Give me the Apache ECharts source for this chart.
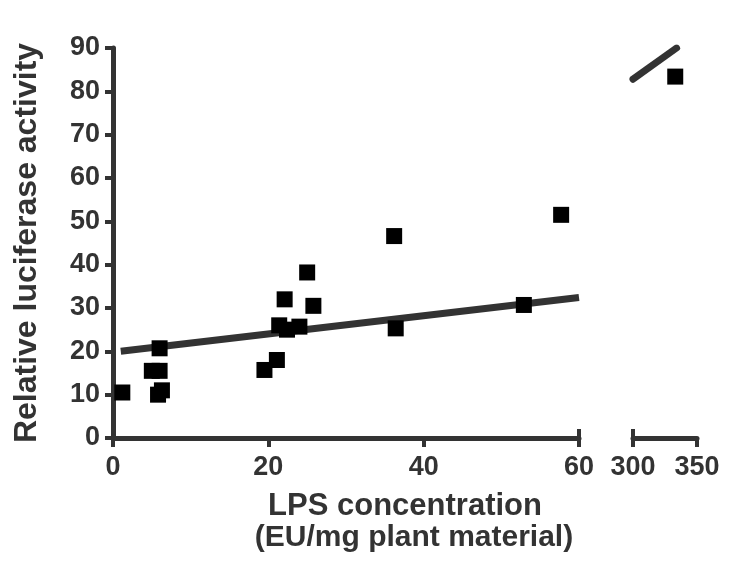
<!DOCTYPE html>
<html>
<head>
<meta charset="utf-8">
<script src="https://cdn.jsdelivr.net/npm/echarts@6/dist/echarts.min.js"></script>
<style>
html,body{margin:0;padding:0;background:#fff;}
#chart{width:750px;height:573px;}
</style>
</head>
<body>
<div id="chart"></div>
<script>
// Data
const lpsConc = [1.2, 5.0, 6.0, 6.0, 5.8, 6.3, 19.5, 21.1, 21.4, 22.4, 22.1, 24.0, 25.0, 25.8, 36.2, 36.4, 52.9, 57.7, 333];
const lucActivity = [10.5, 15.5, 15.5, 20.7, 10.0, 11.0, 15.7, 18.0, 26.0, 25.0, 32.0, 25.7, 38.2, 30.5, 46.6, 25.3, 30.7, 51.5, 83.4];
// Regression line end points (as drawn)
const fitLowX = [1.0, 60];
const fitLowY = [20.0, 32.4];
const fitHighX = [300, 334];
const fitHighY = [82.8, 90];
const yTicks = {min: 0, max: 90, interval: 10};
const xLowTicks = {min: 0, max: 60, interval: 20};
const xHighTicks = {min: 300, max: 350, interval: 50};
const xTitle = ['LPS concentration', '(EU/mg plant material)'];
const yTitle = 'Relative luciferase activity';

const FONT = '"Liberation Sans", Arial, sans-serif';
const INK = '#333333';

const lowPts = [], highPts = [];
lpsConc.forEach((x, i) => { (x < 100 ? lowPts : highPts).push([x, lucActivity[i]]); });

const chart = echarts.init(document.getElementById('chart'));

const axisLine = {show: true, lineStyle: {color: INK, width: 5}};
const labelStyle = {color: INK, fontSize: 27, fontWeight: 'bold', fontFamily: FONT};

chart.setOption({
  animation: false,
  backgroundColor: '#fff',
  grid: [
    {left: 113, top: 48, width: 466, height: 390},
    {left: 633, top: 48, width: 64, height: 390}
  ],
  xAxis: [
    {gridIndex: 0, type: 'value', min: xLowTicks.min, max: xLowTicks.max, interval: xLowTicks.interval,
     axisLine: axisLine, axisTick: {show: true, length: 9, lineStyle: {color: INK, width: 4}},
     axisLabel: Object.assign({margin: 16}, labelStyle), splitLine: {show: false}},
    {gridIndex: 1, type: 'value', min: xHighTicks.min, max: xHighTicks.max, interval: xHighTicks.interval,
     axisLine: axisLine, axisTick: {show: true, length: 9, lineStyle: {color: INK, width: 4}},
     axisLabel: Object.assign({margin: 16}, labelStyle), splitLine: {show: false}},
    // break marks (ticks pointing inward at the segment edges next to the break)
    {gridIndex: 0, type: 'value', min: xLowTicks.min, max: xLowTicks.max, position: 'bottom',
     axisLine: {show: false}, axisLabel: {show: false}, splitLine: {show: false},
     axisTick: {show: true, inside: true, length: 9, customValues: [xLowTicks.max], lineStyle: {color: INK, width: 4}}},
    {gridIndex: 1, type: 'value', min: xHighTicks.min, max: xHighTicks.max, position: 'bottom',
     axisLine: {show: false}, axisLabel: {show: false}, splitLine: {show: false},
     axisTick: {show: true, inside: true, length: 9, customValues: [xHighTicks.min], lineStyle: {color: INK, width: 4}}}
  ],
  yAxis: [
    {gridIndex: 0, type: 'value', min: yTicks.min, max: yTicks.max, interval: yTicks.interval,
     axisLine: axisLine, axisTick: {show: true, length: 8, lineStyle: {color: INK, width: 4}},
     axisLabel: Object.assign({margin: 13}, labelStyle), splitLine: {show: false},
     name: yTitle, nameLocation: 'middle', nameGap: 70, nameRotate: 90,
     nameTextStyle: {color: INK, fontSize: 32, fontWeight: 'bold', fontFamily: FONT}},
    {gridIndex: 1, type: 'value', min: yTicks.min, max: yTicks.max, interval: yTicks.interval, show: false}
  ],
  series: [
    {type: 'line', xAxisIndex: 0, yAxisIndex: 0, data: fitLowX.map((x, i) => [x, fitLowY[i]]),
     symbol: 'none', lineStyle: {color: INK, width: 7}, silent: true, z: 2},
    {type: 'line', xAxisIndex: 1, yAxisIndex: 1, data: fitHighX.map((x, i) => [x, fitHighY[i]]),
     symbol: 'none', lineStyle: {color: INK, width: 7, cap: 'round'}, silent: true, z: 2},
    {type: 'scatter', xAxisIndex: 0, yAxisIndex: 0, data: lowPts, symbol: 'rect', symbolSize: 16,
     itemStyle: {color: '#000', opacity: 1}, z: 3},
    {type: 'scatter', xAxisIndex: 1, yAxisIndex: 1, data: highPts, symbol: 'rect', symbolSize: 16,
     itemStyle: {color: '#000', opacity: 1}, z: 3}
  ],
  graphic: [
    {type: 'text', x: 405, y: 506, style: {text: xTitle[0], fill: INK, font: 'bold 31px ' + FONT, textAlign: 'center', textVerticalAlign: 'middle'}},
    {type: 'text', x: 414, y: 538, style: {text: xTitle[1], fill: INK, font: 'bold 30px ' + FONT, textAlign: 'center', textVerticalAlign: 'middle'}}
  ]
});
</script>
</body>
</html>
